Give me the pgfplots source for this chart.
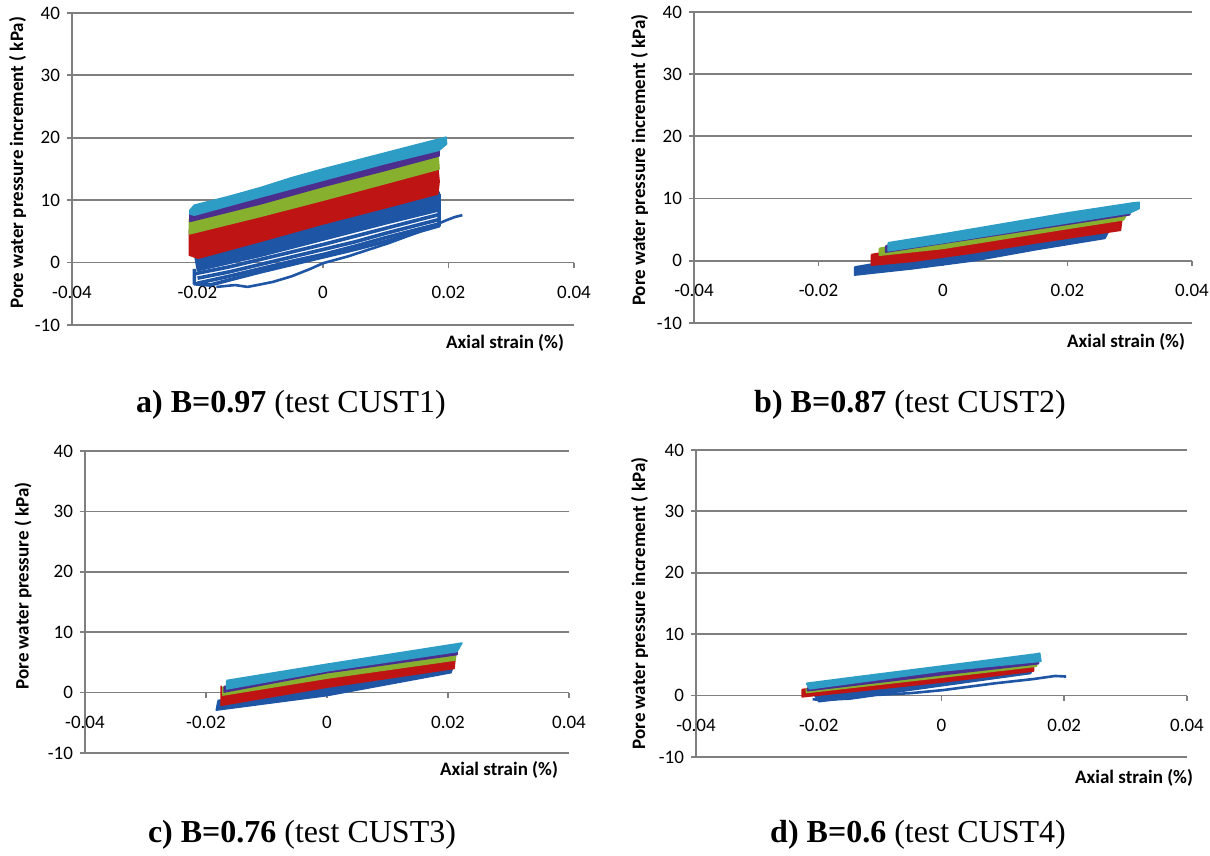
\documentclass[border=0pt]{standalone}
\usepackage{pgfplots}
\pgfplotsset{compat=1.18}
\usepackage{fontspec}
\setmainfont{Carlito}
\newfontfamily\capfont{Liberation Serif}
\definecolor{cblue}{HTML}{1F55A5}
\definecolor{cred}{HTML}{BE1414}
\definecolor{cgreen}{HTML}{86B02E}
\definecolor{cpurple}{HTML}{4B2E8E}
\definecolor{ccyan}{HTML}{2E9DC6}
\definecolor{gridc}{HTML}{7F7F7F}
\pgfplotsset{
  panel/.style={
    scale only axis,
    xmin=-0.04, xmax=0.04, ymin=-10, ymax=40,
    axis y line=left, axis x line=middle,
    x axis line style={-, draw=gridc, line width=0.9pt},
    y axis line style={-, draw=gridc, line width=0.9pt},
    scaled x ticks=false, scaled y ticks=false,
    xtick={-0.04,-0.02,0,0.02,0.04},
    xticklabels={-0.04,-0.02,0,0.02,0.04},
    ytick={-10,0,10,20,30,40},
    yticklabels={-10,0,10,20,30,40},
    hide obscured x ticks=false, hide obscured y ticks=false,
    ymajorgrids, grid style={draw=gridc, line width=0.9pt},
    tick style={draw=gridc, line width=0.9pt},
    tick align=outside, major tick length=2.5pt,
    tick label style={font=\fontsize{9.5}{10}\selectfont},
    xticklabel style={anchor=center, yshift=-12.5pt},
    label style={font=\bfseries\fontsize{9.5}{11}\selectfont},
    xlabel={Axial strain (\%)},
    clip=false,
  },
  band/.style={draw=#1, fill=#1, line width=0.8pt, line join=round},
  bline/.style={draw=cblue, line width=1.8pt, line join=round},
}
\begin{document}
\begin{tikzpicture}
\useasboundingbox (0,0) rectangle (605pt,428pt);
% ---------------- a ----------------
\begin{axis}[panel, at={(36pt,265.5pt)}, anchor=south west, width=251pt, height=156pt,
  ylabel={Pore water pressure increment ( kPa)},
  ylabel style={at={(axis description cs:0,0.52)}, anchor=center, yshift=27.25pt},
  xlabel style={at={(axis description cs:1,0)}, anchor=east, xshift=-1.5pt, yshift=-9pt}]
\addplot[bline, line width=1.3pt] coordinates {(-0.0170,-3.9) (-0.014,-3.6) (-0.012,-3.9) (-0.0095,-3.4) (-0.008,-3.1) (-0.005,-2.2) (-0.002,-1.0) (0.000,-0.1) (0.004,1.0) (0.0104,3.1) (0.015,4.8) (0.0197,6.8) (0.021,7.3) (0.0222,7.6)};
\addplot[bline] coordinates {(-0.0205,-1.0) (-0.0205,-3.4) (-0.018,-3.6) (-0.015,-2.8) (-0.010,-1.5) (-0.005,-0.3) (0.000,0.9) (0.005,2.1) (0.010,3.4) (0.015,4.9) (0.0185,5.9) (0.0185,11.0)};
\addplot[bline] coordinates {(-0.0200,-3.3) (-0.015,-2.2) (-0.010,-1.0) (-0.005,0.2) (0.000,1.3) (0.005,2.6) (0.010,4.0) (0.015,5.3) (0.0185,6.2)};
\addplot[bline] coordinates {(-0.0200,-2.5) (-0.015,-1.5) (-0.010,-0.3) (-0.005,0.9) (0.000,2.1) (0.005,3.3) (0.010,4.7) (0.015,6.0) (0.0185,6.9)};
\addplot[bline] coordinates {(-0.0205,-1.8) (-0.015,-0.7) (-0.010,0.5) (-0.005,1.7) (0.000,2.9) (0.005,4.2) (0.010,5.5) (0.015,6.8) (0.0185,7.7)};
\addplot[band=cblue] coordinates {(-0.0205,1.5) (-0.010,4.2) (0.000,7.0) (0.010,9.2) (0.0185,11.3) (0.0185,8.3) (0.010,6.2) (0.000,3.6) (-0.010,1.0) (-0.020,-1.3) (-0.0205,1.5)};
\addplot[band=cred] coordinates {(-0.0213,5.3) (-0.010,8.0) (0.000,10.5) (0.010,13.0) (0.0183,15.3) (0.0185,13.0) (0.0183,11.0) (0.010,8.8) (0.000,6.2) (-0.010,3.4) (-0.0199,0.7) (-0.0213,1.2) (-0.0213,5.3)};
\addplot[band=cgreen] coordinates {(-0.0213,7.0) (-0.010,10.0) (0.000,12.8) (0.010,15.5) (0.0183,17.6) (0.0185,15.0) (0.010,12.7) (0.000,10.0) (-0.010,7.4) (-0.0213,4.6) (-0.0213,7.0)};
\addplot[band=cpurple] coordinates {(-0.0212,8.2) (-0.010,11.1) (0.000,13.8) (0.010,16.5) (0.0185,18.6) (0.0185,17.1) (0.010,14.8) (0.000,12.2) (-0.010,9.4) (-0.0212,6.6) (-0.0212,8.2)};
\addplot[band=ccyan] coordinates {(-0.0212,8.4) (-0.0205,9.2) (-0.015,10.6) (-0.010,12.0) (-0.005,13.6) (0.000,15.0) (0.005,16.3) (0.010,17.6) (0.015,18.9) (0.0185,19.8) (0.0196,20.1) (0.0197,19.0) (0.0185,18.0) (0.010,15.9) (0.000,13.2) (-0.010,10.5) (-0.0205,7.6) (-0.0212,7.8) (-0.0212,8.4)};
\end{axis}
% ---------------- b ----------------
\begin{axis}[panel, at={(347pt,266.5pt)}, anchor=south west, width=249pt, height=155.5pt,
  ylabel={Pore water pressure increment ( kPa)},
  ylabel style={at={(axis description cs:0,0.524)}, anchor=center, yshift=27.25pt},
  xlabel style={at={(axis description cs:1,0)}, anchor=east, xshift=0pt, yshift=-9.5pt}]
\addplot[band=cblue] coordinates {(-0.0142,-1.0) (-0.005,0.6) (0.005,2.3) (0.015,4.1) (0.0275,6.4) (0.026,3.6) (0.015,1.8) (0.005,0.0) (-0.005,-1.3) (-0.0142,-2.3) (-0.0142,-1.0)};
\addplot[band=cred] coordinates {(-0.0115,1.0) (-0.005,2.1) (0.005,3.6) (0.015,5.1) (0.0288,7.2) (0.0285,4.9) (0.015,2.9) (0.005,1.3) (-0.005,-0.1) (-0.0115,-0.7) (-0.0115,1.0)};
\addplot[band=cgreen] coordinates {(-0.0102,2.0) (0.000,3.6) (0.010,5.2) (0.020,6.8) (0.0300,8.3) (0.029,6.6) (0.020,5.2) (0.010,3.6) (0.000,2.0) (-0.0102,0.9) (-0.0102,2.0)};
\addplot[band=cpurple] coordinates {(-0.0092,2.4) (0.030,8.6) (0.030,7.4) (-0.0092,1.4) (-0.0092,2.4)};
\addplot[band=ccyan] coordinates {(-0.0088,2.9) (0.000,4.3) (0.010,6.0) (0.020,7.7) (0.0305,9.3) (0.0315,9.4) (0.0315,8.4) (0.030,7.7) (0.020,6.1) (0.010,4.5) (0.000,2.9) (-0.0088,1.6) (-0.0088,2.9)};
\end{axis}
% ---------------- c ----------------
\begin{axis}[panel, at={(42.5pt,51.5pt)}, anchor=south west, width=242pt, height=151pt,
  ylabel={Pore water pressure ( kPa)},
  ylabel style={at={(axis description cs:0,0.553)}, anchor=center, yshift=31pt},
  xlabel style={at={(axis description cs:1,0)}, anchor=east, xshift=-2pt, yshift=-8.5pt}]
\addplot[band=cblue] coordinates {(-0.0180,-1.3) (0.000,1.6) (0.0210,4.9) (0.0205,3.3) (0.000,-0.5) (-0.0183,-2.9) (-0.0180,-1.3)};
\addplot[band=cred] coordinates {(-0.0175,1.1) (-0.0172,0.2) (0.000,3.1) (0.0212,6.0) (0.0210,4.0) (0.000,0.9) (-0.0175,-2.1) (-0.0175,1.1)};
\addplot[band=cgreen] coordinates {(-0.0172,0.9) (0.000,3.9) (0.0213,6.9) (0.0212,5.4) (0.000,2.4) (-0.0172,-0.4) (-0.0172,0.9)};
\addplot[band=cpurple] coordinates {(-0.0170,1.0) (0.000,4.0) (0.0215,7.4) (0.0215,6.3) (0.000,3.3) (-0.0170,0.1) (-0.0170,1.0)};
\addplot[band=ccyan] coordinates {(-0.0166,2.0) (0.000,4.7) (0.0223,8.2) (0.0215,6.8) (0.000,3.6) (-0.0166,0.6) (-0.0166,2.0)};
\end{axis}
% ---------------- d ----------------
\begin{axis}[panel, at={(348pt,49.5pt)}, anchor=south west, width=245.5pt, height=153.5pt,
  ylabel={Pore water pressure increment ( kPa)},
  ylabel style={at={(axis description cs:0,0.50)}, anchor=center, yshift=28.25pt},
  xlabel style={at={(axis description cs:1,0)}, anchor=east, xshift=6.5pt, yshift=-10.5pt}]
\addplot[bline, line width=1.3pt] coordinates {(-0.0210,-0.6) (-0.0197,-0.7) (-0.015,-0.5) (-0.0107,0.1) (-0.005,0.4) (0.0003,0.9) (0.0087,2.0) (0.015,2.7) (0.0185,3.2) (0.0203,3.1)};
\addplot[bline, line width=1.3pt] coordinates {(-0.0197,-0.2) (-0.010,1.0) (0.000,2.2) (0.010,3.4) (0.015,4.5)};
\addplot[band=cblue] coordinates {(-0.0210,0.6) (0.000,3.0) (0.0150,4.8) (0.0145,3.6) (0.000,1.6) (-0.010,0.2) (-0.0200,-1.0) (-0.0210,0.6)};
\addplot[band=cred] coordinates {(-0.0227,1.0) (0.000,3.2) (0.0150,5.0) (0.0150,4.0) (0.000,2.2) (-0.0227,-0.2) (-0.0227,1.0)};
\addplot[band=cgreen] coordinates {(-0.0220,1.1) (0.000,3.6) (0.0155,5.3) (0.0155,4.8) (0.000,3.0) (-0.0220,0.5) (-0.0220,1.1)};
\addplot[band=cpurple] coordinates {(-0.0218,1.3) (0.000,3.9) (0.0158,5.9) (0.0158,5.2) (0.000,3.4) (-0.0218,0.8) (-0.0218,1.3)};
\addplot[band=ccyan] coordinates {(-0.0220,2.0) (-0.015,2.9) (0.000,4.8) (0.0155,6.8) (0.0160,6.9) (0.0162,5.6) (0.000,4.0) (-0.0215,1.1) (-0.0220,2.0)};
\end{axis}
% captions
\node[font=\capfont\fontsize{16}{18}\selectfont] at (145.5pt,225.5pt) {\textbf{a) B=0.97} (test CUST1)};
\node[font=\capfont\fontsize{16}{18}\selectfont] at (455pt,225.5pt) {\textbf{b) B=0.87} (test CUST2)};
\node[font=\capfont\fontsize{16}{18}\selectfont] at (151pt,10.5pt) {\textbf{c) B=0.76} (test CUST3)};
\node[font=\capfont\fontsize{16}{18}\selectfont] at (459pt,10.5pt) {\textbf{d) B=0.6} (test CUST4)};
\end{tikzpicture}
\end{document}
